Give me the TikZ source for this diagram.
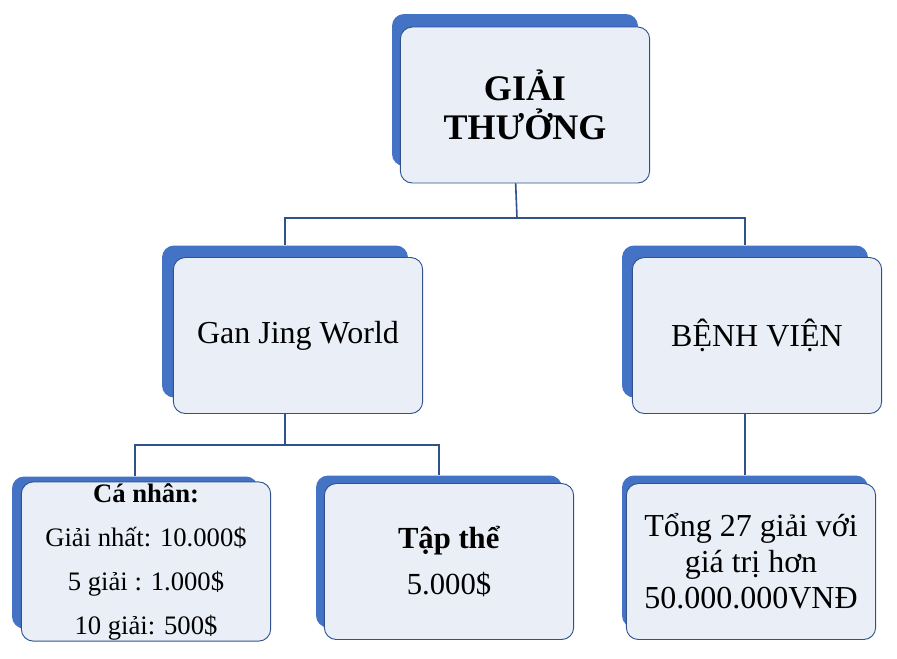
\documentclass[tikz,border=0pt]{standalone}
\usepackage{fontspec}
\setmainfont{Liberation Serif}
\usetikzlibrary{backgrounds}
\definecolor{boxblue}{HTML}{4472C4}
\definecolor{boxfill}{HTML}{EAEFF7}
\definecolor{edgeblue}{HTML}{2F528F}
\begin{document}
\begin{tikzpicture}[x=0.75pt,y=-0.75pt,
back/.style={
	rectangle,rounded corners=9pt,fill=boxblue,
	minimum width=184.5pt,minimum height=114pt},
front/.style={
	rectangle,rounded corners=9pt,fill=boxfill,draw=edgeblue,line width=0.7pt,
	minimum width=187pt,minimum height=117pt,align=center,inner sep=1pt},
link/.style={draw=edgeblue,line width=1.2pt},
]
\useasboundingbox (0,0) rectangle (897,658);
% back plates
\node[back] (topback) at (515,90) {};
\node[back] (ganback) at (285,321.5) {};
\node[back] (bvback) at (745,321.5) {};
\node[back] (personback) at (135,552.5) {};
\node[back] (teamback) at (439,551.5) {};
\node[back] (totalback) at (745,551.5) {};
% front boxes
\node[front,font=\fontsize{27}{29}\selectfont\bfseries] (top) at (525,105) {GIẢI\\THƯỞNG};
\node[front,font=\fontsize{24}{26}\selectfont] (gan) at (298,335.5) {Gan Jing World};
\node[front,font=\fontsize{24}{26}\selectfont] (bv) at (757,335.5) {BỆNH VIỆN};
\node[front,font=\fontsize{20}{33}\selectfont] (person) at (146,561.5)
	{\textbf{Cá nhân:}\\Giải nhất: 10.000\$\\5 giải : 1.000\$\\10 giải: 500\$};
\node[front,font=\fontsize{23}{34}\selectfont] (team) at (449,561.5)
	{\textbf{Tập thể}\\5.000\$};
\node[front,font=\fontsize{24}{27}\selectfont] (total) at (751,561.5)
	{Tổng 27 giải với\\giá trị hơn\\50.000.000VNĐ};
% connectors
\coordinate (split1) at (517,218);
\coordinate (split2) at (285,445);
\begin{scope}[on background layer]
\draw[link] (topback.south) -- (split1);
\draw[link] (split1) -| (ganback.north);
\draw[link] (split1) -| (bvback.north);
\draw[link] (ganback.south) -- (split2);
\draw[link] (split2) -| (personback.north);
\draw[link] (split2) -| (teamback.north);
\draw[link] (bvback.south) -- (totalback.north);
\end{scope}
\end{tikzpicture}
\end{document}
